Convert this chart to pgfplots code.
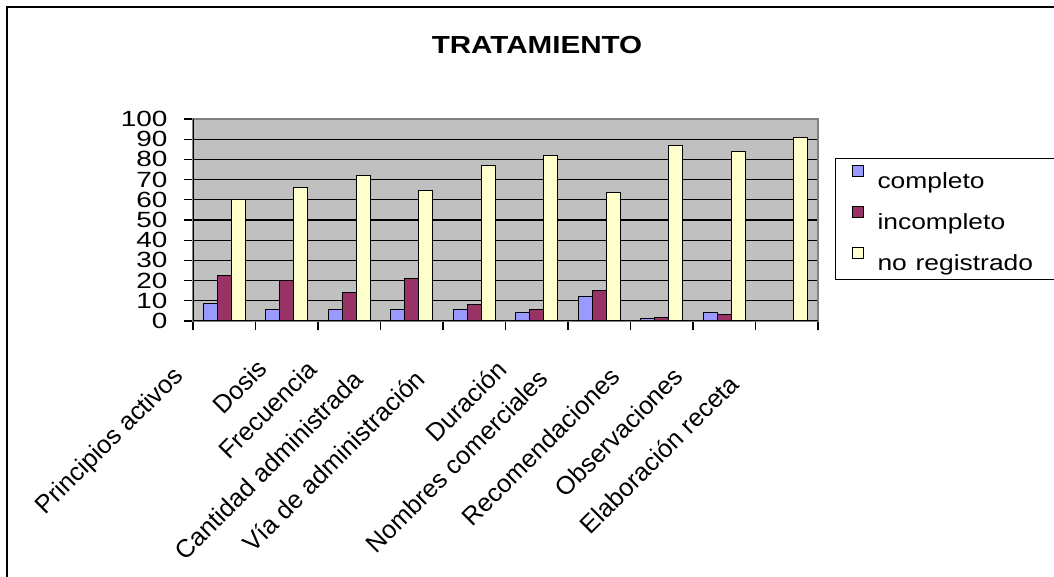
\documentclass[border=0pt]{standalone}
\usepackage{fontspec}
\setmainfont{Liberation Sans}
\usepackage{graphicx}
\usepackage{pgfplots}
\pgfplotsset{compat=1.18}

\definecolor{xlblue}{HTML}{9999FF}
\definecolor{xlplum}{HTML}{993366}
\definecolor{xlcream}{HTML}{FFFFCC}
\definecolor{xlgray}{HTML}{C0C0C0}
\definecolor{xledge}{HTML}{808080}

% percentage of prescriptions per field
\pgfplotstableread{
idx completo incompleto noreg
0   8.5   22.5  60
1   5.5   20    66
2   5.5   14    72
3   5.5   21    64.5
4   5.5   8     77
5   4.4   5.5   82
6   12    15    63.5
7   1.4   1.7   87
8   4.4   3.4   84
9   0     0     91
}\datatable

\begin{document}
\begin{tikzpicture}
\useasboundingbox (0,0) rectangle (790.5pt,432.75pt);
% chart frame
\draw[line width=1.6pt] (5.25pt,-20pt) |- (820pt,427.5pt);
% title
\node[font=\bfseries\fontsize{18.5}{20}\selectfont] at (402.75pt,399pt) {\scalebox{1.2}[1]{TRATAMIENTO}};
\begin{axis}[
  at={(144.75pt,192pt)}, anchor=south west,
  width=468.75pt, height=151.5pt, scale only axis,
  xmin=-0.5, xmax=9.5, ymin=0, ymax=100,
  ybar=0pt, bar width=0.222,
  axis background/.style={fill=xlgray},
  axis line style={draw=xledge, line width=1pt},
  ytick={0,10,...,100},
  xtick pos=bottom, ytick pos=left,
  ymajorgrids, major grid style={black, line width=0.8pt},
  tick align=outside, major tick length=7pt,
  tick style={black, line width=0.8pt},
  /pgf/number format/assume math mode=true,
  yticklabel={\scalebox{1.27}[1]{\pgfmathprintnumber{\tick}}},
  yticklabel style={font=\fontsize{16.5}{16.5}\selectfont, inner sep=0pt, xshift=-12pt},
  xtick={-0.5,0.5,...,9.5}, xticklabels={},
  extra x ticks={-0.425,0.764,1.58,2.487,3.447,4.62,5.431,6.54,7.559,8.551},
  extra x tick labels={
    {Principios activos\hspace*{8.5pt}},
    {Dosis},
    {Frecuencia\hspace*{1pt}},
    {Cantidad administrada\hspace*{11.7pt}},
    {Vía de administración\hspace*{10.6pt}},
    {Duración\hspace*{1pt}},
    {Nombres comerciales\hspace*{10.6pt}},
    {Recomendaciones\hspace*{8.5pt}},
    {Observaciones\hspace*{8.5pt}},
    {Elaboración receta\hspace*{15.9pt}}},
  extra x tick style={major tick length=0pt,
    xticklabel style={yshift=-32.5pt, xshift=-7.5pt, rotate=45, anchor=east, inner sep=0pt,
      font=\fontsize{19}{20}\selectfont}},
  every axis plot post/.append style={
    draw=black, line width=0.8pt,
    legend image code/.code={\draw[##1, draw=black, line width=0.6pt] (0pt,1pt) rectangle (8.8pt,9.8pt);}},
  legend cell align=left,
  legend style={at={(1.0272,0.807)}, anchor=north west, draw=black, line width=1pt,
    fill=white, inner xsep=12pt, inner ysep=2pt, row sep=5.5pt, column sep=8pt,
    nodes={font=\fontsize{16.5}{16.5}\selectfont, inner sep=2pt,
      text height=18.5pt, text depth=2.75pt},
    /tikz/every even column/.append style={text width=140pt}},
]
\addplot[fill=xlblue] table[x=idx, y=completo] {\datatable};
\addlegendentry{\scalebox{1.2}[1]{completo}}
\addplot[fill=xlplum] table[x=idx, y=incompleto] {\datatable};
\addlegendentry{\scalebox{1.2}[1]{incompleto}}
\addplot[fill=xlcream] table[x=idx, y=noreg] {\datatable};
\addlegendentry{\scalebox{1.2}[1]{no registrado}}
\draw[black, line width=1pt] (rel axis cs:0,1) -- (rel axis cs:0,0) -- (rel axis cs:1,0);
\end{axis}
\end{tikzpicture}
\end{document}
